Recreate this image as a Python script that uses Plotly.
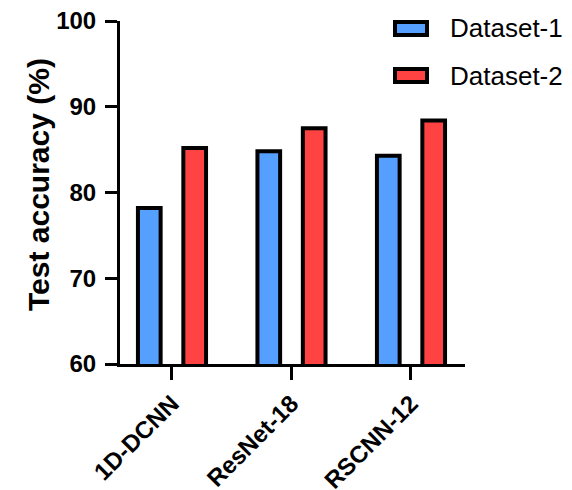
import plotly.graph_objects as go

categories = ["1D-DCNN", "ResNet-18", "RSCNN-12"]
dataset1 = [78.2, 84.8, 84.3]
dataset2 = [85.2, 87.5, 88.4]
series_names = ["Dataset-1", "Dataset-2"]
y_ticks = [60, 70, 80, 90, 100]
y_title = "Test accuracy (%)"

BLUE = "#559FFF"
RED = "#FF4242"

fig = go.Figure()
fig.add_trace(go.Bar(x=categories, y=dataset1, name=series_names[0],
                     marker=dict(color=BLUE, line=dict(color="black", width=4)),
                     showlegend=False))
fig.add_trace(go.Bar(x=categories, y=dataset2, name=series_names[1],
                     marker=dict(color=RED, line=dict(color="black", width=4)),
                     showlegend=False))

# page body has an 8px offset; figure coordinates are in page pixels minus 8
OFF = 8
W, H = 572, 490
L, T = 120 - OFF, 21 - OFF
R, B = W - (465 - OFF), H - (364 - OFF)
PW, PH = W - L - R, H - T - B
def px(x): return (x - OFF - L) / PW
def py(y): return (H - B - (y - OFF)) / PH

FONT = "Liberation Sans, Arial"
shapes = []
annotations = []
for i, (name, col) in enumerate(zip(series_names, [BLUE, RED])):
    top = 22 + i * 47
    shapes.append(dict(type="rect", xref="paper", yref="paper",
                       x0=px(395), x1=px(427), y0=py(top + 13), y1=py(top),
                       fillcolor=col, line=dict(color="black", width=4)))
    annotations.append(dict(xref="paper", yref="paper", x=px(448), y=py(top + 6.5),
                            xanchor="left", yanchor="middle", text=name, showarrow=False,
                            font=dict(family=FONT, size=26, color="black")))
annotations.append(dict(xref="paper", yref="paper", x=px(38), y=py(185),
                        xanchor="center", yanchor="middle", textangle=-90,
                        text=y_title, showarrow=False,
                        font=dict(family=FONT, size=30, color="black", weight="bold")))

fig.update_layout(
    width=W, height=H,
    margin=dict(l=L, r=R, t=T, b=B, autoexpand=False),
    paper_bgcolor="white", plot_bgcolor="white",
    barmode="group", bargap=0.24, bargroupgap=0.5,
    shapes=shapes, annotations=annotations,
    font=dict(family=FONT, color="black"),
    xaxis=dict(range=[-0.435, 2.452], showline=True, linecolor="black", linewidth=3,
               ticks="outside", ticklen=13, tickwidth=3, tickcolor="black",
               tickangle=-45, showgrid=False, zeroline=False, ticklabeloverflow="allow",
               tickfont=dict(family=FONT, size=24, color="black", weight="bold")),
    yaxis=dict(range=[60, 100], tickvals=y_ticks, showline=True, linecolor="black", linewidth=3,
               ticks="outside", ticklen=12, tickwidth=3, tickcolor="black",
               showgrid=False, zeroline=False, ticklabeloverflow="allow", ticklabelstandoff=4,
               tickfont=dict(family=FONT, size=24, color="black", weight="bold")),
)

fig.write_html("out.html")
